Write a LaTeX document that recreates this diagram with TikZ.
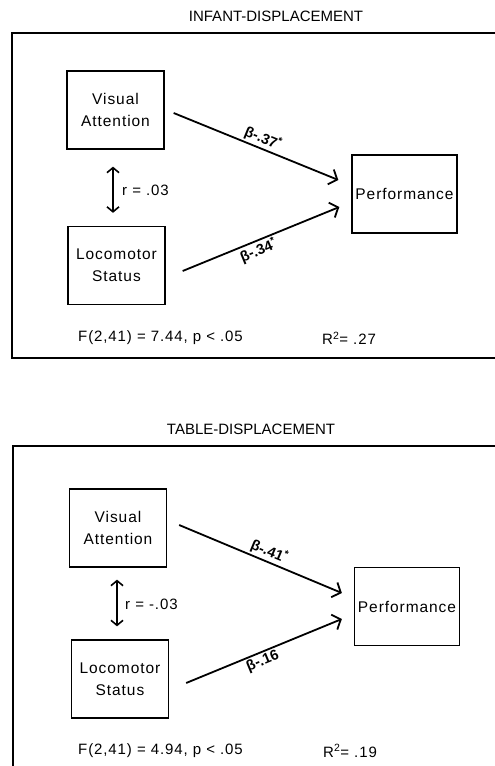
\documentclass[tikz,border=0pt]{standalone}
\usepackage{fontspec}
\setmainfont{Liberation Sans}
\newfontfamily\spaced[LetterSpace=6]{Liberation Sans}
\usetikzlibrary{arrows.meta}
\tikzset{
  frameline/.style={line width=1.4pt},
  varbox/.style={draw, line width=1.3pt, minimum width=97pt, minimum height=78pt,
    align=center, inner sep=0pt, font=\spaced\fontsize{15.5}{22}\selectfont},
  perfbox/.style={draw, line width=1.3pt, minimum width=105pt, minimum height=78pt,
    inner sep=0pt, font=\spaced\fontsize{15.5}{22}\selectfont},
  pathline/.style={line width=1.8pt, -{Straight Barb[length=7pt,width=16pt,line width=1.8pt]}},
  corr/.style={line width=1.6pt, {Straight Barb[length=5pt,width=12pt,line width=1.6pt]}-{Straight Barb[length=5pt,width=12pt,line width=1.6pt]}},
  coef/.style={font=\bfseries\fontsize{14.5}{16}\selectfont, sloped, inner sep=1.5pt},
  title/.style={font=\fontsize{15}{17}\selectfont},
  stat/.style={anchor=west, font=\spaced\fontsize{15}{18}\selectfont, inner sep=0pt},
}
\begin{document}
\begin{tikzpicture}[x=1pt, y=-1pt]
\useasboundingbox (0,0) rectangle (495,766);

% ---------- upper panel ----------
\node[title] (t1) at (276,16) {INFANT-DISPLACEMENT};
\draw[frameline] (495,33) -- (12,33) -- (12,358) -- (495,358);

\node[varbox] (va1) at (115.5,110) {Visual\\Attention};
\node[varbox] (ls1) at (116.5,265.5) {Locomotor\\Status};
\node[perfbox] (pf1) at (404.5,194) {Performance};

\draw[corr] ([xshift=-2.5pt,yshift=-17pt]va1.south) -- ([xshift=-3.5pt,yshift=13pt]ls1.north);
\node[stat] (r1) at (122,190) {r = .03};

\draw[pathline] ([xshift=9pt,yshift=-3pt]va1.east) -- ([xshift=-13pt,yshift=14pt]pf1.west)
  node[coef, above, pos=0.52] (b1) {β-.37\textsuperscript{*}};
\draw[pathline] ([xshift=17pt,yshift=-5.5pt]ls1.east) -- ([xshift=-12pt,yshift=-13pt]pf1.west)
  node[coef, below, pos=0.46] (b2) {β-.34\textsuperscript{*}};

\node[stat] (f1) at (78,338) {F(2,41) = 7.44, p < .05};
\node[stat] (rr1) at (322,338) {R\textsuperscript{2}= .27};

% ---------- lower panel ----------
\node[title] (t2) at (251,429) {TABLE-DISPLACEMENT};
\draw[frameline] (495,446) -- (13,446) -- (13,770);

\node[varbox] (va2) at (118,528) {Visual\\Attention};
\node[varbox] (ls2) at (120,679) {Locomotor\\Status};
\node[perfbox] (pf2) at (407,606.5) {Performance};

\draw[corr] ([xshift=-1pt,yshift=-12pt]va2.south) -- ([xshift=-3pt,yshift=13pt]ls2.north);
\node[stat] (r2) at (125,604) {r = -.03};

\draw[pathline] ([xshift=12pt,yshift=3pt]va2.east) -- ([xshift=-12pt,yshift=13.5pt]pf2.west)
  node[coef, above, pos=0.53] (b3) {β-.41\textsuperscript{*}};
\draw[pathline] ([xshift=17pt,yshift=-4pt]ls2.east) -- ([xshift=-12pt,yshift=-12.5pt]pf2.west)
  node[coef, below, pos=0.47] (b4) {β-.16};

\node[stat] (f2) at (78,751) {F(2,41) = 4.94, p < .05};
\node[stat] (rr2) at (323,751) {R\textsuperscript{2}= .19};
\end{tikzpicture}
\end{document}
